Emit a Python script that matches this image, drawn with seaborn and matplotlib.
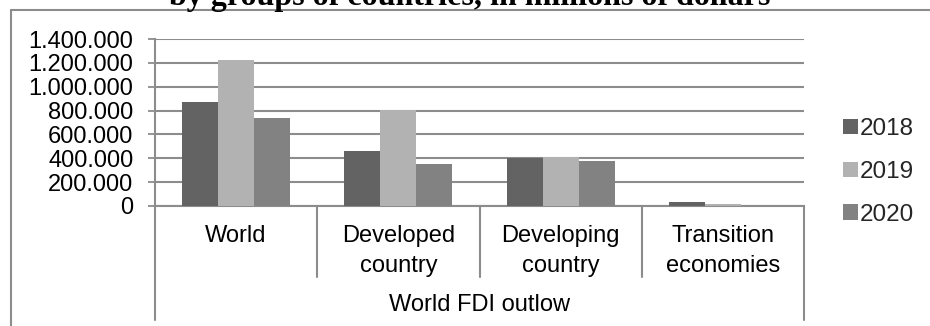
import matplotlib
matplotlib.use("Agg")
import matplotlib.pyplot as plt
import matplotlib.transforms as mtransforms
from matplotlib.lines import Line2D
from matplotlib.ticker import FuncFormatter
import seaborn as sns
import pandas as pd

# FDI outflows by group of countries, millions of dollars
categories = ["World", "Developed\ncountry", "Developing\ncountry", "Transition\neconomies"]
years = ["2018", "2019", "2020"]
values_2018 = [869000, 461000, 400000, 31000]
values_2019 = [1221000, 802000, 413000, 17000]
values_2020 = [738000, 349000, 380000, 0]
y_ticks = [0, 200000, 400000, 600000, 800000, 1000000, 1200000, 1400000]
group_label = "World FDI outlow"
title = "by groups of countries, in millions of dollars"

colors = ["#636363", "#b2b2b2", "#828282"]
grid_color = "#8c8c8c"

rows = []
for yr, vals in zip(years, [values_2018, values_2019, values_2020]):
    for cat, v in zip(categories, vals):
        rows.append({"category": cat, "year": yr, "value": v})
df = pd.DataFrame(rows)

sns.set_theme(style="white")
plt.rcParams["font.family"] = ["Liberation Sans", "DejaVu Sans"]

W, H = 930, 326
fig = plt.figure(figsize=(W / 100, H / 100), dpi=100)
ax = fig.add_axes([155 / W, 1 - 206 / H, 649 / W, 167 / H])

sns.barplot(data=df, x="category", y="value", hue="year", order=categories,
            hue_order=years, palette=colors, width=0.665, saturation=1,
            linewidth=0, ax=ax, zorder=3)

ax.set_xlim(-0.5, len(categories) - 0.5)
ax.set_ylim(0, y_ticks[-1])
ax.set_yticks(y_ticks)
ax.yaxis.set_major_formatter(FuncFormatter(lambda v, p: f"{int(v):,}".replace(",", ".")))
ax.tick_params(axis="y", which="major", left=True, length=5, width=1.3,
               color=grid_color, pad=10.5, labelsize=17, labelcolor="black")
ax.grid(axis="y", color=grid_color, linewidth=1.5, zorder=0)
ax.set_axisbelow(True)

ax.set_xticks(range(len(categories)))
ax.set_xticklabels(categories, linespacing=1.45)
ax.tick_params(axis="x", bottom=False, pad=8, labelsize=17, labelcolor="black")
ax.set_xlabel("")
ax.set_ylabel("")

for side in ["top", "right"]:
    ax.spines[side].set_visible(False)
for side in ["left", "bottom"]:
    ax.spines[side].set_color(grid_color)
    ax.spines[side].set_linewidth(1.5)

# category dividers and outer frame lines below the axis
trans = mtransforms.blended_transform_factory(ax.transData, ax.transAxes)
for i in range(1, len(categories)):
    ax.add_line(Line2D([i - 0.5, i - 0.5], [0, -0.425], transform=trans,
                       color=grid_color, lw=1.5, clip_on=False))
for xe in [-0.5, len(categories) - 0.5]:
    ax.add_line(Line2D([xe, xe], [0, -0.683], transform=trans,
                       color=grid_color, lw=1.5, clip_on=False))

ax.text(0.5, -0.59, group_label, transform=ax.transAxes, ha="center",
        va="center", fontsize=17, color="black")

# legend on the right
handles, labels = ax.get_legend_handles_labels()
if ax.legend_:
    ax.legend_.remove()
fig.legend(handles, labels, loc="center left",
           bbox_to_anchor=(843 / W, 1 - 172 / H), frameon=False,
           fontsize=17.5, handlelength=0.6, handleheight=0.6,
           handletextpad=0.1, labelspacing=0.85, borderpad=0,
           borderaxespad=0)

# chart frame
fig.add_artist(Line2D([11 / W, 1.0], [1 - 9.5 / H, 1 - 9.5 / H],
                      transform=fig.transFigure, color=grid_color, lw=1.5))
fig.add_artist(Line2D([11 / W, 11 / W], [0, 1 - 9.5 / H],
                      transform=fig.transFigure, color=grid_color, lw=1.5))

# title, mostly above the visible area
fig.text(0.505, 1 - 5 / H, title, ha="center", va="baseline", fontsize=23,
         fontweight="bold", family=["Liberation Serif", "DejaVu Serif"],
         color="black")

fig.savefig("out.png", dpi=100)
